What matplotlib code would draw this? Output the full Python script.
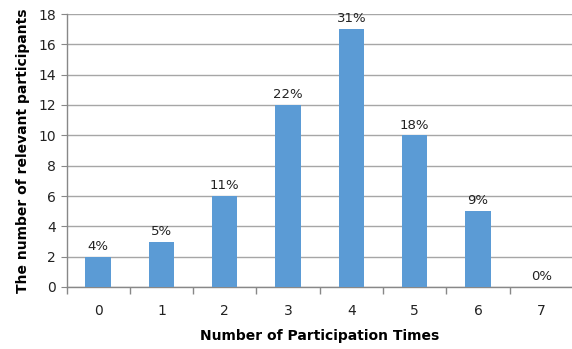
import matplotlib
matplotlib.use("Agg")
import matplotlib.pyplot as plt

categories = ["0", "1", "2", "3", "4", "5", "6", "7"]
counts = [2, 3, 6, 12, 17, 10, 5, 0]
percent_labels = ["4%", "5%", "11%", "22%", "31%", "18%", "9%", "0%"]
y_ticks = [0, 2, 4, 6, 8, 10, 12, 14, 16, 18]

plt.rcParams["font.family"] = ["DejaVu Sans"]

fig = plt.figure(figsize=(5.72, 3.49), dpi=100)
ax = fig.add_axes([66.5 / 572, 1 - 287 / 349, (573 - 66.5) / 572, (287 - 14) / 349])

x = list(range(len(categories)))
bars = ax.bar(x, counts, width=0.4, color="#5B9BD5", zorder=3)

for xi, c, lab in zip(x, counts, percent_labels):
    ax.text(xi, c + 0.25, lab, ha="center", va="bottom", fontsize=9.5, color="#222222")

ax.set_xlim(-0.5, len(categories) - 0.5)
ax.set_ylim(0, 18)
ax.set_yticks(y_ticks)
ax.set_xticks(x)
ax.set_xticklabels(categories)
ax.set_xticks([i - 0.5 for i in range(len(categories) + 1)], minor=True)
ax.tick_params(axis="x", which="major", length=0, pad=12, labelsize=10, colors="#222222")
ax.tick_params(axis="x", which="minor", length=5, color="#888888", width=1)
ax.tick_params(axis="y", length=4, color="#888888", labelsize=10, labelcolor="#222222")

ax.grid(axis="y", color="#a6a6a6", linewidth=1, zorder=0)
for side in ("top", "right"):
    ax.spines[side].set_visible(False)
for side in ("left", "bottom"):
    ax.spines[side].set_color("#888888")
    ax.spines[side].set_linewidth(1)

ax.set_xlabel("Number of Participation Times", fontsize=10, fontweight="bold", labelpad=8)
ax.set_ylabel("The number of relevant participants", fontsize=10, fontweight="bold", labelpad=6)

fig.savefig("out.png", dpi=100)
